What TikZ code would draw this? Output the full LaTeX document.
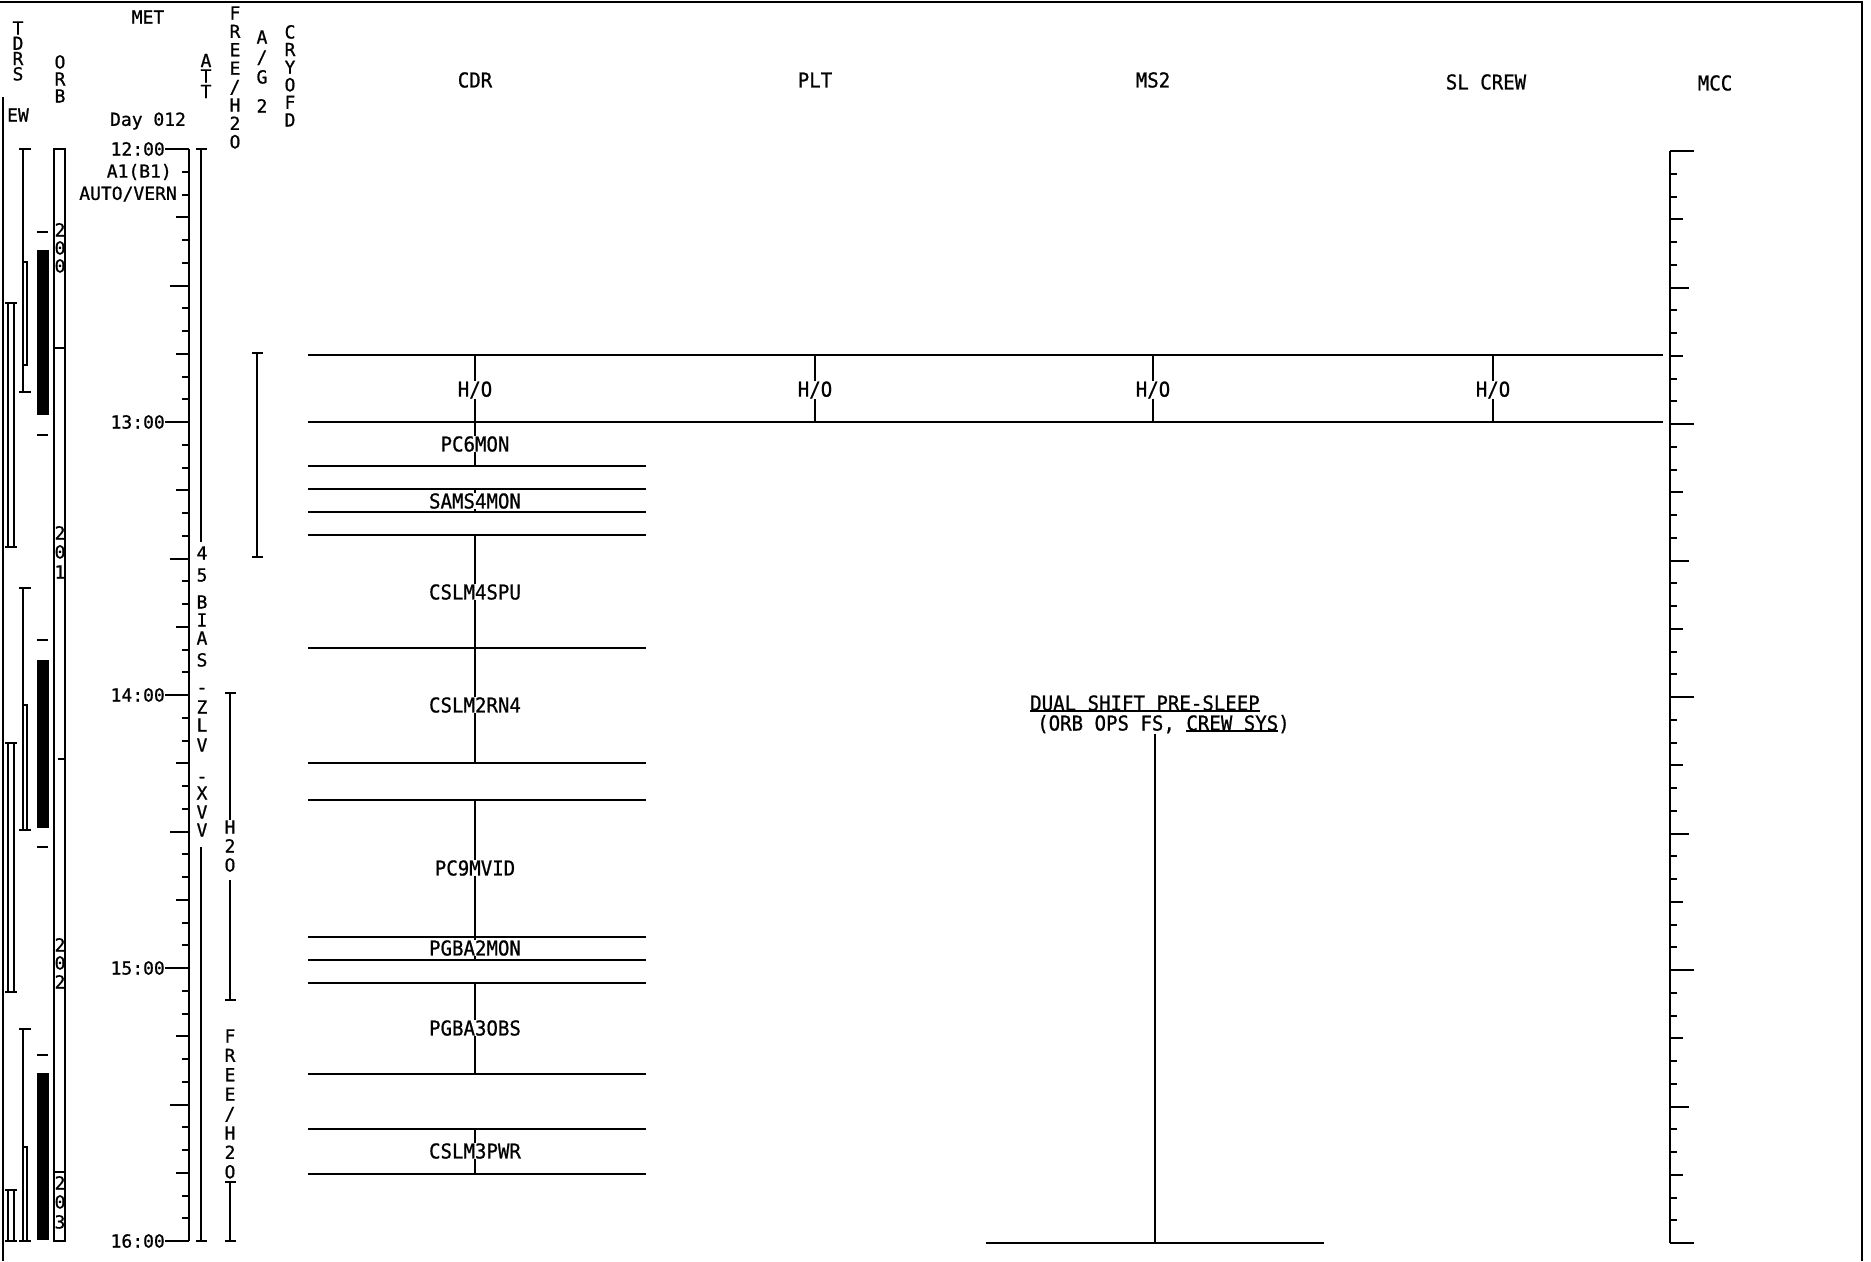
\documentclass[tikz,border=0pt]{standalone}
\usepackage{fontspec}
\newfontfamily\monoA[FakeStretch=0.93,FakeBold=0.8]{DejaVu Sans Mono}
\newfontfamily\monoB[FakeBold=0.8]{DejaVu Sans Mono}
\newcommand\ulin[1]{\setbox0\hbox{#1}\rlap{\rule[-1.2pt]{\wd0}{1.8pt}}\box0}
\begin{document}
\begin{tikzpicture}[x=1pt,y=-1pt,
  big/.style={font=\monoA\fontsize{20.5}{20}\selectfont, inner sep=0pt},
  sm/.style={font=\monoB\fontsize{18}{18}\selectfont, inner sep=0pt},
  ln/.style={line width=2.4pt},
  tk/.style={line width=2pt},
  thin/.style={line width=1.6pt}]
\useasboundingbox (0,0) rectangle (1871,1261);
% frame
\draw[ln] (0,2) -- (1862,2) -- (1862,1261);
\draw[ln] (3,97) -- (3,1261);
% ---- left headers
\foreach \c [count=\i from 0] in {T,D,R,S} \node[sm,anchor=base] (tdrs\i) at (18,{34.5+15.3*\i}) {\c};
\node[sm] (ew) at (18,115) {EW};
\foreach \c [count=\i from 0] in {O,R,B} \node[sm,anchor=base] (orb\i) at (60,{68.5+17*\i}) {\c};
\node[sm] (met) at (148,17) {MET};
\node[sm] (day) at (148,121) {Day 012};
\foreach \c [count=\i from 0] in {A,T,T} \node[sm,anchor=base] (att\i) at (206,{67+15.5*\i}) {\c};
\foreach \c [count=\i from 0] in {F,R,E,E,/,H,2,O} \node[sm,anchor=base] (fh\i) at (235,{19.5+18.4*\i}) {\c};
\node[sm,anchor=base] (ag0) at (262,43.5) {A};
\node[sm,anchor=base] (ag1) at (262,63.5) {/};
\node[sm,anchor=base] (ag2) at (262,83.5) {G};
\node[sm,anchor=base] (ag3) at (262,112.5) {2};
\foreach \c [count=\i from 0] in {C,R,Y,O,F,D} \node[sm,anchor=base] (cry\i) at (290,{38.5+17.6*\i}) {\c};
% ---- TDRS W bars
\foreach \a/\b in {303/547,743/992,1190/1241}{
  \draw[thin] (8,\a) -- (8,\b); \draw[thin] (14,\a) -- (14,\b);
  \draw[thin] (5,\a) -- (17,\a); \draw[thin] (5,\b) -- (17,\b);}
% ---- TDRS E bars
\foreach \a/\b/\c/\d in {149/392/262/365,588/830/705/830,1029/1241/1147/1241}{
  \draw[thin] (23,\a) -- (23,\b);
  \draw[thin] (19,\a) -- (31,\a); \draw[thin] (19,\b) -- (31,\b);
  \draw[thin] (23,\c) rectangle (27,\d);}
% ---- black bars
\fill (37,250) rectangle (49,415);
\fill (37,660) rectangle (49,828);
\fill (37,1073) rectangle (49,1240);
\foreach \yy in {232,435,640,847,1055} \draw[tk] (37,\yy) -- (48,\yy);
% ---- ORB box
\draw[thin] (54,149) rectangle (65,1241);
\draw[thin] (54,348) -- (65,348);
\draw[thin] (54,1172) -- (65,1172);
\draw[thin] (58,759) -- (65,759);
\foreach \c/\yy [count=\i] in {2/230,0/248,0/266,2/533,0/552,1/572,2/945,0/963,2/982,2/1183,0/1202,3/1222}
  \node[sm,anchor=base] (orbn\i) at (60,\yy+6.5) {\c};
% ---- MET axis
\draw[ln] (189,149) -- (189,1241);
\foreach \k in {0,...,48}{
  \pgfmathsetmacro\yy{149+22.75*\k}
  \pgfmathsetmacro\ym{151+22.75*\k}
  \pgfmathtruncatemacro\mA{mod(\k,12)}
  \pgfmathtruncatemacro\mB{mod(\k,6)}
  \pgfmathtruncatemacro\mC{mod(\k,3)}
  \ifnum\mA=0 \def\len{24}\else\ifnum\mB=0 \def\len{19}\else\ifnum\mC=0 \def\len{13}\else\def\len{7}\fi\fi\fi
  \draw[tk] (189-\len,\yy) -- (189,\yy);
  \draw[tk] (1670,\ym) -- (1670+\len,\ym);
}
\foreach \h [count=\k from 0] in {12,13,14,15,16} \node[sm,anchor=east] (tm\h) at (165,{149+273*\k}) {\h:00};
\node[sm,anchor=east] (a1b1) at (172,172) {A1(B1)};
\node[sm,anchor=east] (auto) at (177,194) {AUTO/VERN};
% ---- ATT line
\draw[ln] (201,149) -- (201,542);
\draw[ln] (196,149) -- (207,149);
\draw[ln] (201,847) -- (201,1241);
\draw[ln] (196,1241) -- (207,1241);
\foreach \c/\yy [count=\i] in {4/553,5/575,B/602,I/620,A/638,S/660,Z/707,L/725,V/745,X/793,V/812,V/830}
  \node[sm,anchor=base] (attc\i) at (202,\yy+6.5) {\c};
\node[sm,anchor=base] (attd1) at (202,693.5) {-};
\node[sm,anchor=base] (attd2) at (202,782.5) {-};
% ---- A/G I-beam
\draw[ln] (257,353) -- (257,557);
\draw[ln] (252,353) -- (263,353);
\draw[ln] (252,557) -- (263,557);
% ---- H2O bars
\draw[ln] (230,693) -- (230,820);
\draw[ln] (225,693) -- (236,693);
\foreach \c [count=\i from 0] in {H,2,O} \node[sm,anchor=base] (hw\i) at (230,{833.5+19*\i}) {\c};
\draw[ln] (230,880) -- (230,1000);
\draw[ln] (225,1000) -- (236,1000);
\foreach \c [count=\i from 0] in {F,R,E,E,/,H,2,O} \node[sm,anchor=base] (fw\i) at (230,{1042.5+19.4*\i}) {\c};
\draw[ln] (230,1182) -- (230,1241);
\draw[ln] (225,1182) -- (236,1182);
\draw[ln] (225,1241) -- (236,1241);
% ---- crew headers
\node[big] (cdr) at (475,80) {CDR};
\node[big] (plt) at (815,80) {PLT};
\node[big] (ms2) at (1153,80) {MS2};
\node[big] (slc) at (1486,82) {SL CREW};
\node[big] (mcc) at (1715,83) {MCC};
% ---- H/O band
\coordinate (bandTL) at (308,355); \coordinate (bandTR) at (1663,355);
\coordinate (bandBL) at (308,422); \coordinate (bandBR) at (1663,422);
\draw[ln] (bandTL) -- (bandTR);
\draw[ln] (bandBL) -- (bandBR);
\foreach \x/\n in {475/a,815/b,1153/c,1493/d}{
  \coordinate (hot\n) at (\x,355); \coordinate (hob\n) at (\x,422);
  \node[big] (ho\n) at (\x,390) {H/O};
  \draw[ln] (hot\n) -- (ho\n) -- (hob\n);}
% ---- CDR tasks
\foreach \yy [count=\i] in {466,489,512,535,648,763,800,937,960,983,1074,1129,1174}{
  \coordinate (hl\i) at (308,\yy); \coordinate (hr\i) at (646,\yy);
  \draw[ln] (hl\i) -- (hr\i);}
\foreach \t/\yy/\a/\b [count=\i] in {PC6MON/444/422/466,SAMS4MON/501/489/512,CSLM4SPU/592/535/648,CSLM2RN4/705/648/763,PC9MVID/868/800/937,PGBA2MON/948/937/960,PGBA3OBS/1028/983/1074,CSLM3PWR/1151/1129/1174}{
  \coordinate (ta\i) at (475,\a); \coordinate (tb\i) at (475,\b);
  \node[big] (task\i) at (475,\yy) {\t};
  \draw[ln] (ta\i) -- (task\i) -- (tb\i);}
% ---- dual shift
\node[big,anchor=base west] (dual1) at (1030,710.5) {\ulin{DUAL SHIFT PRE-SLEEP}};
\node[big,anchor=base west] (dual2) at (1037,730.5) {(ORB OPS FS, \ulin{CREW SYS})};
\coordinate (dbot) at (1155,1243);
\coordinate (dl) at (986,1243); \coordinate (dr) at (1324,1243);
\draw[ln] (dual2.south -| dbot) -- (dbot);
\draw[ln] (dl) -- (dr);
% ---- MCC axis
\draw[ln] (1670,151) -- (1670,1243);
\end{tikzpicture}
\end{document}
